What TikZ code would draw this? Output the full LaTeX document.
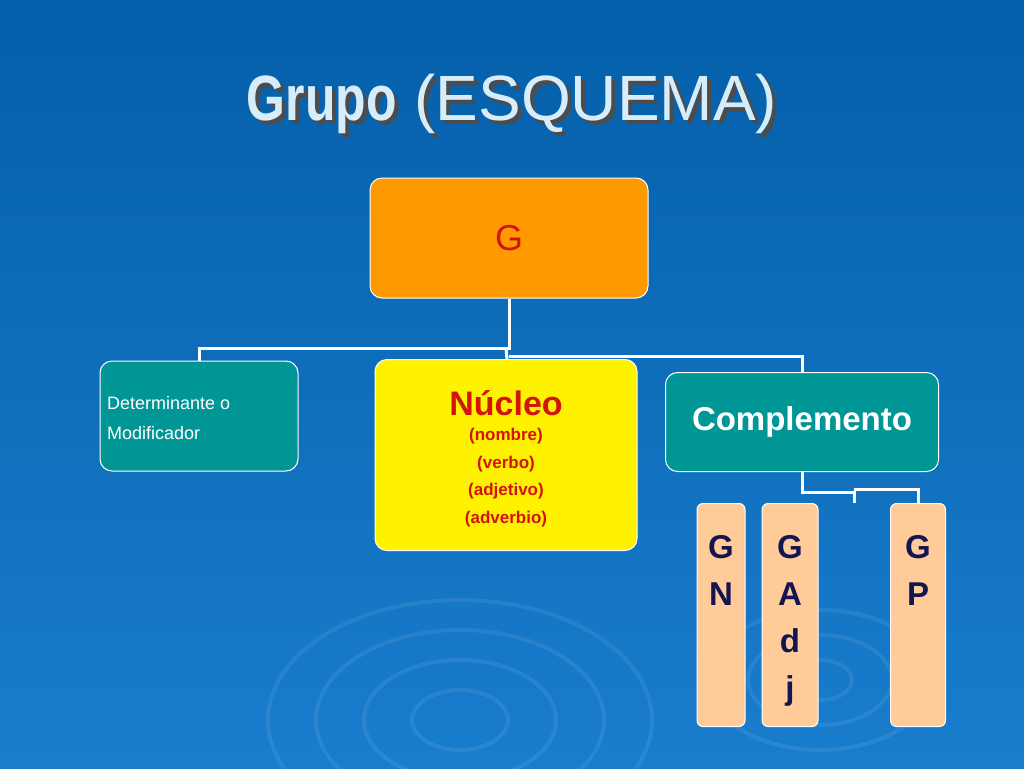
\documentclass[tikz,border=0pt]{standalone}
\usepackage{fontspec}
\setmainfont{Liberation Sans}
\begin{document}
\begin{tikzpicture}[x=1pt,y=-1pt,
  box/.style={draw=white,line width=1pt,rounded corners=12pt,inner sep=0pt},
  teal/.style={box,fill={rgb,255:red,0;green,150;blue,150}},
  peach/.style={box,fill={rgb,255:red,255;green,204;blue,153},rounded corners=6pt,minimum height=223pt,anchor=north},
  ptxt/.style={text=navy,font=\bfseries\fontsize{33}{47}\selectfont,align=center,anchor=north,inner sep=0pt},
  conn/.style={draw=white,line width=3pt}]
\definecolor{ttl}{RGB}{215,238,250}
\definecolor{navy}{RGB}{20,20,80}
\definecolor{redt}{RGB}{210,20,10}
\useasboundingbox (0,0) rectangle (1024,768);
\shade[top color={rgb,255:red,5;green,95;blue,170},bottom color={rgb,255:red,25;green,125;blue,205}] (0,0) rectangle (1024,768);
\foreach \r in {30,60,90,120}{\draw[white,opacity=0.08,line width=4pt] (460,720) ellipse ({\r*1.6} and \r);}
\foreach \r in {20,45,70}{\draw[white,opacity=0.08,line width=4pt] (820,680) ellipse ({\r*1.6} and \r);}
\node[text=black!70] (tsh) at (516,108) {\fontsize{64}{70}\selectfont\scalebox{0.78}[1]{\bfseries Grupo} (ESQUEMA)};
\node[text=ttl] (t) at (512,104) {\fontsize{64}{70}\selectfont\scalebox{0.78}[1]{\bfseries Grupo} (ESQUEMA)};
\node[box,fill={rgb,255:red,255;green,153;blue,0},minimum width=278pt,minimum height=120pt,text=redt,font=\fontsize{36}{40}\selectfont] (g) at (509,238) {G};
\node[teal,minimum width=198pt,minimum height=110pt] (det) at (199,416) {};
\node[text=white,align=left,font=\fontsize{18}{30}\selectfont,anchor=west,inner sep=0pt] (dett) at (107,418) {Determinante o\\Modificador};
\node[box,fill=yellow,minimum width=262pt,minimum height=191pt] (nuc) at (506,455) {};
\node[text=redt,font=\bfseries\fontsize{34}{38}\selectfont,inner sep=0pt] (nuct) at (506,403) {Núcleo};
\node[text=redt,align=center,font=\bfseries\fontsize{17}{27.5}\selectfont,anchor=north,inner sep=0pt] (nucs) at (506,428) {(nombre)\\(verbo)\\(adjetivo)\\(adverbio)};
\node[teal,minimum width=273pt,minimum height=99pt,text=white,font=\bfseries\fontsize{33}{38}\selectfont] (com) at (802,422) {Complemento};
\node[peach,minimum width=48pt] (gn) at (721,503) {};
\node[peach,minimum width=56pt] (gadj) at (790,503) {};
\node[peach,minimum width=55pt] (gp) at (918,503) {};
\node[ptxt] (gnt) at (721,535) {G\\N};
\node[ptxt] (gadjt) at (790,535) {G\\A\\d\\j};
\node[ptxt] (gpt) at (918,535) {G\\P};
\coordinate (stub) at (854,503);
\draw[conn] (g.south) -- ++(0,50) -| (det.north);
\draw[conn] (g.south) ++(-3,50) -- (nuc.north -| 507,0);
\draw[conn] (g.south) ++(0,58) -| (com.north);
\draw[conn] (com.south) -- ++(0,20) -| (stub);
\draw[conn] (com.south) ++(52,17) -| (gp.north);
\end{tikzpicture}
\end{document}
